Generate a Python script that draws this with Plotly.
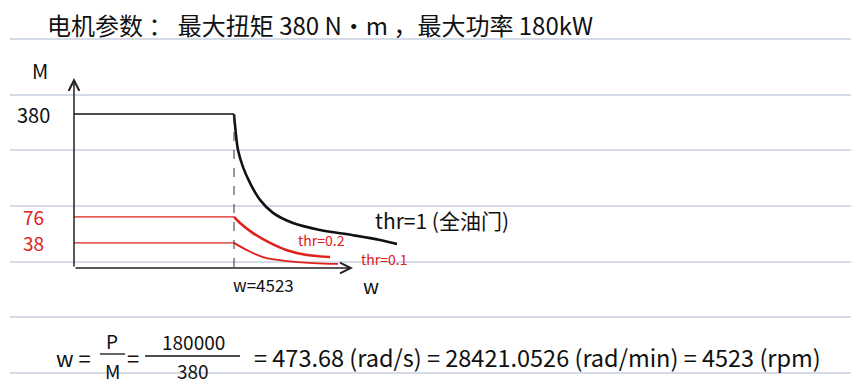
import plotly.graph_objects as go

W, H = 851, 388

# ---- data (values as drawn in the sketch) ----
w_base = 4523            # base speed (rpm)
m_max = 380              # max torque line
m_thr02_flat = 126       # drawn height of the "76" line
m_thr01_flat = 62        # drawn height of the "38" line

w_thr1 = [4523, 4551, 4636, 4778, 4975, 5258, 5626, 6191, 6954, 7887, 8651, 9131]
m_thr1 = [380, 353, 291, 249, 210, 168, 136, 111, 94, 81, 69, 59]

w_thr02 = [4523, 4693, 5060, 5541, 6022, 6587, 7237]
m_thr02 = [126, 111, 86, 62, 44, 32, 27]

w_thr01 = [4523, 4891, 5343, 6022, 6757, 7463]
m_thr01 = [62, 44, 27, 17, 12, 10]

y_tick_vals = [380, 126, 62]
y_tick_text = ["380", "76", "38"]
y_tick_colors = ["#111111", "#e0201b", "#e0201b"]

w_axis_end = 7887
m_axis_end = 469

# ---- layout helpers ----
X_RANGE = [-2092, 21965]
Y_RANGE = [-296.1, 661.3]
def px(x):
    return x / W
def py(y):
    return 1 - y / H

BLACK = "#111111"
RED = "#e0201b"
RULE = "#c9cfe0"
FONT = "Noto Sans CJK SC, Liberation Sans, sans-serif"

fig = go.Figure()

# flat segments
fig.add_trace(go.Scatter(x=[0, w_base], y=[m_max, m_max], mode="lines",
                         line=dict(color=BLACK, width=1.6), hoverinfo="skip"))
fig.add_trace(go.Scatter(x=[0, w_base], y=[m_thr02_flat, m_thr02_flat], mode="lines",
                         line=dict(color=RED, width=1.2), hoverinfo="skip"))
fig.add_trace(go.Scatter(x=[0, w_base], y=[m_thr01_flat, m_thr01_flat], mode="lines",
                         line=dict(color=RED, width=1.2), hoverinfo="skip"))
# decaying curves
fig.add_trace(go.Scatter(x=w_thr1, y=m_thr1, mode="lines", line_shape="spline",
                         line=dict(color=BLACK, width=2.6), hoverinfo="skip"))
fig.add_trace(go.Scatter(x=w_thr02, y=m_thr02, mode="lines", line_shape="spline",
                         line=dict(color=RED, width=2.6), hoverinfo="skip"))
fig.add_trace(go.Scatter(x=w_thr01, y=m_thr01, mode="lines", line_shape="spline",
                         line=dict(color=RED, width=1.8), hoverinfo="skip"))

shapes = []
# ruled notebook lines
for yy in [39, 95, 150, 206, 262, 317, 373]:
    shapes.append(dict(type="line", xref="paper", yref="paper",
                       x0=px(10), x1=1, y0=py(yy), y1=py(yy),
                       line=dict(color=RULE, width=1.5), layer="below"))
# dashed vertical at base speed
shapes.append(dict(type="line", xref="x", yref="y", x0=w_base, x1=w_base,
                   y0=m_max, y1=-10, line=dict(color="#333333", width=1, dash="dash")))
# fraction bars
shapes.append(dict(type="line", xref="paper", yref="paper", x0=px(100), x1=px(125),
                   y0=py(354), y1=py(354), line=dict(color=BLACK, width=1.3)))
shapes.append(dict(type="line", xref="paper", yref="paper", x0=px(145), x1=px(240),
                   y0=py(356), y1=py(356), line=dict(color=BLACK, width=1.3)))

ann = []
# axes with arrows
ann.append(dict(x=0, y=m_axis_end, ax=0, ay=0, xref="x", yref="y", axref="x", ayref="y",
                showarrow=True, arrowhead=5, arrowsize=1.4, arrowwidth=1.5,
                arrowcolor="#222222", text=""))
ann.append(dict(x=w_axis_end, y=0, ax=0, ay=0, xref="x", yref="y", axref="x", ayref="y",
                showarrow=True, arrowhead=5, arrowsize=1.4, arrowwidth=1.5,
                arrowcolor="#222222", text=""))

def txt(text, x, y, size, color=BLACK, xanchor="center"):
    ann.append(dict(text=text, x=px(x), y=py(y), xref="paper", yref="paper",
                    showarrow=False, xanchor=xanchor, yanchor="middle",
                    font=dict(family=FONT, size=size, color=color)))

# y tick labels
for v, t, c in zip(y_tick_vals, y_tick_text, y_tick_colors):
    ann.append(dict(text=t, x=-1150, y=v, xref="x", yref="y", showarrow=False,
                    xanchor="center", yanchor="middle",
                    font=dict(family=FONT, size=20 if c == BLACK else 19, color=c)))

txt("电机参数 ： 最大扭矩 380 N·m ，最大功率 180kW", 45, 25, 24, xanchor="left")
txt("M", 40, 70, 20)
txt("w", 371, 285, 20)
txt("w=4523", 263, 284, 17)
txt("thr=1 (全油门)", 373, 220, 21, xanchor="left")
txt("thr=0.2", 321, 240, 14, RED)
txt("thr=0.1", 384, 259, 14, RED)

# formula
txt("w =", 73, 357, 22)
txt("P", 112, 340, 19)
txt("M", 112, 370, 19)
txt("=", 133, 357, 22)
txt("180000", 193, 341, 19)
txt("380", 193, 370, 19)
txt("= 473.68 (rad/s) = 28421.0526 (rad/min) = 4523 (rpm)", 252, 357, 23.5, xanchor="left")

fig.update_layout(
    width=W, height=H, margin=dict(l=0, r=0, t=0, b=0),
    paper_bgcolor="white", plot_bgcolor="white", showlegend=False,
    xaxis=dict(range=X_RANGE, visible=False, fixedrange=True),
    yaxis=dict(range=Y_RANGE, visible=False, fixedrange=True),
    shapes=shapes, annotations=ann,
)

fig.write_html("out.html", config={"displayModeBar": False},
               post_script="document.body.style.margin='0';document.body.style.overflow='hidden';")
